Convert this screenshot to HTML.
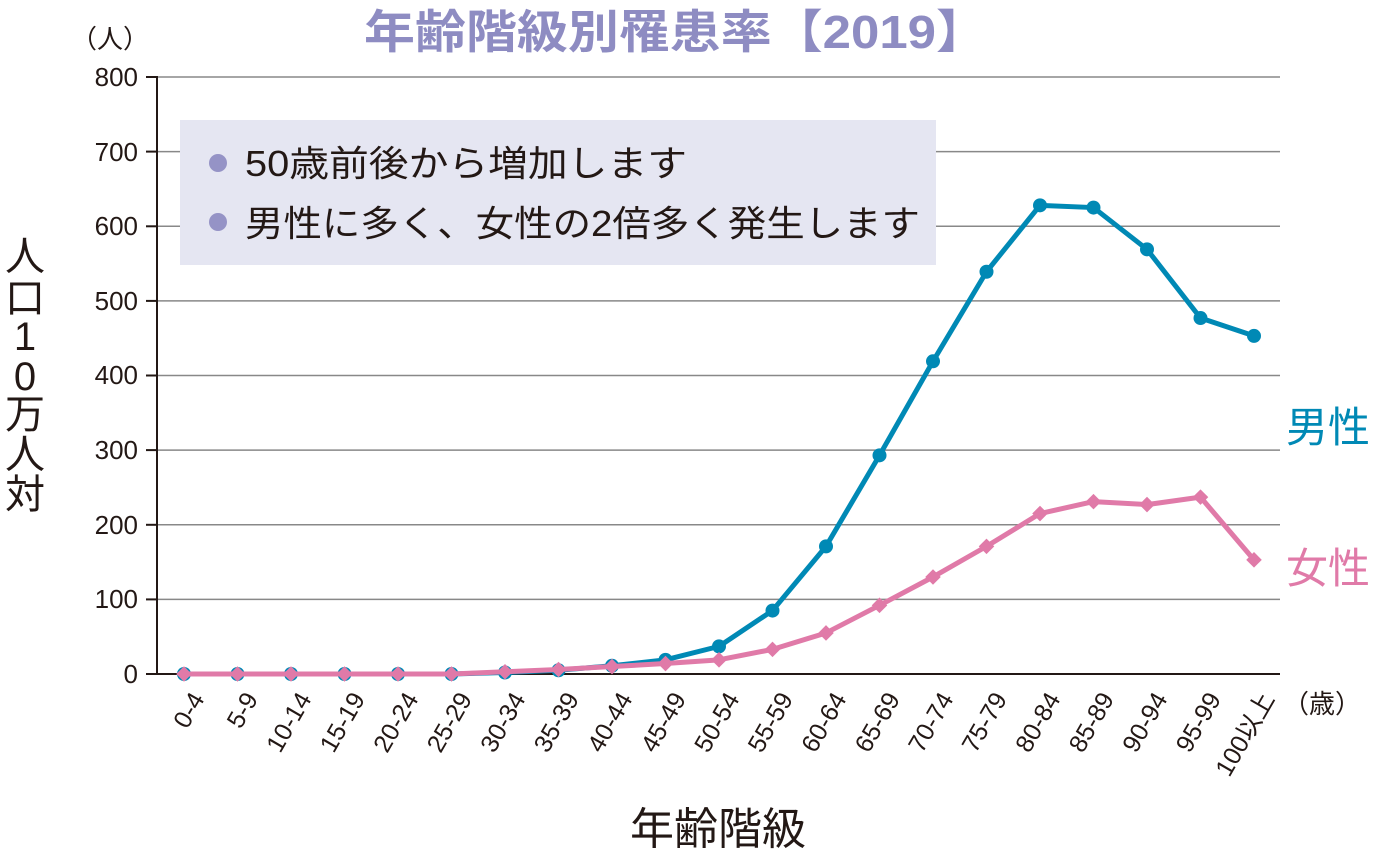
<!DOCTYPE html>
<html><head><meta charset="utf-8"><style>
body{margin:0;background:#fff}
text{font-family:"Liberation Sans","Noto Sans CJK JP",sans-serif;fill:#231815}
</style></head><body>
<svg width="1380" height="850" viewBox="0 0 1380 850" xmlns="http://www.w3.org/2000/svg">
<text x="364" y="48" font-size="46" font-weight="bold" textLength="623" lengthAdjust="spacingAndGlyphs" style="fill:#8e8cc2">年齢階級別罹患率【2019】</text>
<text x="110" y="48" text-anchor="middle" font-size="26">（人）</text>
<g stroke="#888" stroke-width="1.5">
<line x1="157" y1="77" x2="1280" y2="77"/><line x1="157" y1="151.6" x2="1280" y2="151.6"/>
<line x1="157" y1="226.3" x2="1280" y2="226.3"/><line x1="157" y1="300.9" x2="1280" y2="300.9"/>
<line x1="157" y1="375.5" x2="1280" y2="375.5"/><line x1="157" y1="450.1" x2="1280" y2="450.1"/>
<line x1="157" y1="524.8" x2="1280" y2="524.8"/><line x1="157" y1="599.4" x2="1280" y2="599.4"/>
</g>
<rect x="180" y="120" width="756" height="145" fill="#e5e6f2"/>
<circle cx="218" cy="163" r="9" fill="#9593c6"/><circle cx="218" cy="222" r="9" fill="#9593c6"/>
<text x="245" y="176" font-size="36" textLength="442" lengthAdjust="spacingAndGlyphs">50歳前後から増加します</text>
<text x="245" y="236" font-size="36" textLength="675" lengthAdjust="spacingAndGlyphs">男性に多く、女性の2倍多く発生します</text>
<g stroke="#231815" stroke-width="2">
<line x1="157" y1="76" x2="157" y2="675"/><line x1="156" y1="674" x2="1280" y2="674"/>
<line x1="146" y1="77" x2="157" y2="77"/><line x1="146" y1="151.6" x2="157" y2="151.6"/>
<line x1="146" y1="226.3" x2="157" y2="226.3"/><line x1="146" y1="300.9" x2="157" y2="300.9"/>
<line x1="146" y1="375.5" x2="157" y2="375.5"/><line x1="146" y1="450.1" x2="157" y2="450.1"/>
<line x1="146" y1="524.8" x2="157" y2="524.8"/><line x1="146" y1="599.4" x2="157" y2="599.4"/>
<line x1="146" y1="674" x2="157" y2="674"/>
</g>
<g font-size="26" text-anchor="end">
<text x="138" y="86">800</text><text x="138" y="161">700</text><text x="138" y="235">600</text>
<text x="138" y="310">500</text><text x="138" y="384">400</text><text x="138" y="459">300</text>
<text x="138" y="534">200</text><text x="138" y="608">100</text><text x="138" y="683">0</text>
</g>
<g font-size="40" text-anchor="middle">
<text x="25" y="270">人</text><text x="25" y="312">口</text><text x="25" y="350">1</text><text x="25" y="390">0</text>
<text x="25" y="428">万</text><text x="25" y="468">人</text><text x="25" y="508">対</text>
</g>
<text x="718" y="844" text-anchor="middle" font-size="44">年齢階級</text>
<text x="1322" y="713" text-anchor="middle" font-size="26">（歳）</text>
<text x="1286" y="442" font-size="42" style="fill:#0089b5">男性</text>
<text x="1286" y="583" font-size="42" style="fill:#e07aa8">女性</text>
<g id="xl" font-size="25" text-anchor="end"></g>
<polyline id="m" fill="none" stroke="#0089b5" stroke-width="5" stroke-linejoin="round"/>
<g id="mp" fill="#0089b5"></g>
<polyline id="f" fill="none" stroke="#e07aa8" stroke-width="5" stroke-linejoin="round"/>
<g id="fp" fill="#e07aa8"></g>
</svg>
<script>
var labs=["0-4","5-9","10-14","15-19","20-24","25-29","30-34","35-39","40-44","45-49","50-54","55-59","60-64","65-69","70-74","75-79","80-84","85-89","90-94","95-99","100以上"];
var M=[0,0,0,0,0,0,2,5,11,19,37,85,171,293,419,539,628,625,569,477,453];
var F=[0,0,0,0,0,0,3,6,10,14,19,33,55,92,130,171,215,231,227,237,153];
var ns="http://www.w3.org/2000/svg";
function X(i){return 184+i*53.5}function Y(v){return 674-v*0.7463}
var xl=document.getElementById("xl"),mp=document.getElementById("mp"),fp=document.getElementById("fp");
var mpts=[],fpts=[];
labs.forEach(function(l,i){
var t=document.createElementNS(ns,"text");var x=X(i)+6,y=690;
t.setAttribute("x",x);t.setAttribute("y",y);t.setAttribute("transform","rotate(-60 "+x+" "+y+")");t.setAttribute("dy","0.7em");
t.textContent=l;xl.appendChild(t);
mpts.push(X(i)+","+Y(M[i]));fpts.push(X(i)+","+Y(F[i]));
var c=document.createElementNS(ns,"circle");c.setAttribute("cx",X(i));c.setAttribute("cy",Y(M[i]));c.setAttribute("r",7);mp.appendChild(c);
var d=document.createElementNS(ns,"rect");d.setAttribute("x",X(i)-5.5);d.setAttribute("y",Y(F[i])-5.5);d.setAttribute("width",11);d.setAttribute("height",11);
d.setAttribute("transform","rotate(45 "+X(i)+" "+Y(F[i])+")");fp.appendChild(d);
});
document.getElementById("m").setAttribute("points",mpts.join(" "));
document.getElementById("f").setAttribute("points",fpts.join(" "));
</script>
</body></html>
